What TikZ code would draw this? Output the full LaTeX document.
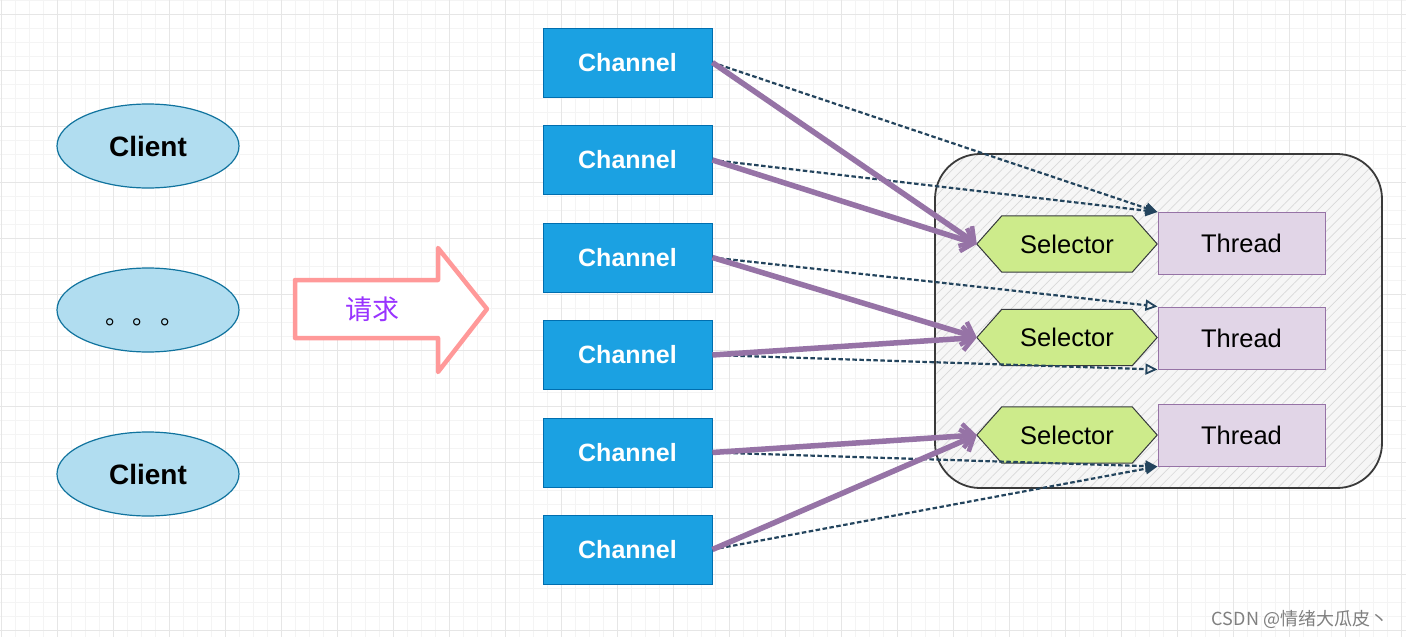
\documentclass[tikz,border=0pt]{standalone}
\usepackage{fontspec}
\setmainfont{Liberation Sans}
\newfontfamily\cjk{Noto Sans CJK SC}
\usetikzlibrary{arrows.meta,patterns.meta,shapes.geometric}
\pgfdeclarelayer{gridlayer}
\pgfdeclarelayer{shapelayer}
\pgfsetlayers{gridlayer,shapelayer,main}
\definecolor{clientfill}{HTML}{B1DDF0}
\definecolor{clientstroke}{HTML}{10739E}
\definecolor{chanfill}{HTML}{1BA1E2}
\definecolor{chanstroke}{HTML}{006EAF}
\definecolor{selfill}{HTML}{CDEB8B}
\definecolor{selstroke}{HTML}{36393D}
\definecolor{thfill}{HTML}{E1D5E7}
\definecolor{thstroke}{HTML}{9673A6}
\definecolor{dashcol}{HTML}{23445D}
\definecolor{reqpink}{HTML}{FF9999}
\definecolor{reqtext}{HTML}{9933FF}
\definecolor{minorgrid}{HTML}{F4F4F4}
\definecolor{majorgrid}{HTML}{E6E6E6}
\definecolor{poolfill}{HTML}{F6F6F6}
\definecolor{poolstroke}{HTML}{3A3A3A}
\begin{document}
\begin{tikzpicture}[x=1pt,y=-1pt,
  client/.style={ellipse,draw=clientstroke,fill=clientfill,line width=1.2pt,minimum width=182pt,minimum height=84pt,inner sep=0pt,font=\fontsize{28}{30}\selectfont\bfseries},
  chan/.style={draw=chanstroke,fill=chanfill,line width=0.8pt,minimum width=169pt,minimum height=69pt,inner sep=0pt,text=white,font=\fontsize{25}{28}\selectfont\bfseries},
  selbox/.style={minimum width=180pt,minimum height=56pt,inner sep=0pt,font=\fontsize{25.5}{28}\selectfont},
  hex/.style={draw=selstroke,fill=selfill,line width=1pt},
  thbox/.style={draw=thstroke,fill=thfill,line width=1pt,minimum width=167pt,minimum height=62pt,inner sep=0pt,font=\fontsize{25.5}{28}\selectfont},
  purp/.style={draw=thstroke,line width=5.5pt,-{Straight Barb[length=11pt,width=24pt,line width=4.5pt]}},
  dsh/.style={draw=dashcol,line width=2.2pt,dash pattern=on 4.5pt off 2.5pt,-{Triangle[length=12pt,width=11pt]}},
  dsho/.style={draw=dashcol,line width=2.2pt,dash pattern=on 4.5pt off 2.5pt,-{Triangle[open,length=12pt,width=11pt,line width=1.8pt]}}
]
\useasboundingbox (0,0) rectangle (1406,637);
\begin{pgfonlayer}{gridlayer}
  \fill[white] (0,0) rectangle (1406,637);
  \foreach \i in {0,...,101} {
    \draw[minorgrid,line width=0.8pt] (1+14*\i,0) -- (1+14*\i,637);
  }
  \foreach \j in {0,...,46} {
    \draw[minorgrid,line width=0.8pt] (0,14*\j) -- (1406,14*\j);
  }
  \foreach \i in {0,...,25} {
    \draw[majorgrid,line width=0.9pt] (1+56*\i,0) -- (1+56*\i,637);
  }
  \foreach \j in {0,...,11} {
    \draw[majorgrid,line width=0.9pt] (0,14+56*\j) -- (1406,14+56*\j);
  }
  \node[rounded corners=45pt,fill=poolfill,minimum width=447pt,minimum height=334pt,inner sep=0pt,
        postaction={pattern={Lines[angle=45,distance=7pt,line width=0.7pt]},pattern color=black!15},
        postaction={draw=poolstroke,line width=1.8pt}] (pool) at (1158.5,321) {};
\end{pgfonlayer}

% clients
\node[client] (c1) at (148,146) {Client};
\node[client] (c2) at (148,310) {};
\node[font=\cjk\fontsize{24}{28}\selectfont,text=black,inner sep=0pt] (dots) at (145,322) {。\hspace{4pt}。\hspace{4pt}。};
\node[client] (c3) at (148,474) {Client};

% request arrow
\draw[draw=reqpink,fill=white,line width=4.5pt,line join=round]
  (295,280) -- (438,280) -- (438,248) -- (487,309) -- (438,372) -- (438,338) -- (295,338) -- cycle;
\node[text=reqtext,font=\cjk\fontsize{27}{30}\selectfont] (req) at (372,309) {请求};

% channels
\node[chan] (ch1) at (627.5,62.5) {Channel};
\node[chan] (ch2) at (627.5,160) {Channel};
\node[chan] (ch3) at (627.5,257.5) {Channel};
\node[chan] (ch4) at (627.5,355) {Channel};
\node[chan] (ch5) at (627.5,452.5) {Channel};
\node[chan] (ch6) at (627.5,549.5) {Channel};

% selectors
\node[selbox] (s1) at (1067,244) {Selector};
\node[selbox] (s2) at (1067,337.5) {Selector};
\node[selbox] (s3) at (1067,435) {Selector};
\begin{pgfonlayer}{shapelayer}
  \foreach \s in {s1,s2,s3} {
    \draw[hex] (\s.west) -- ([xshift=25pt]\s.north west) -- ([xshift=-25pt]\s.north east)
      -- (\s.east) -- ([xshift=-25pt]\s.south east) -- ([xshift=25pt]\s.south west) -- cycle;
  }
\end{pgfonlayer}

% threads
\node[thbox] (t1) at (1241.5,243.5) {Thread};
\node[thbox] (t2) at (1241.5,338) {Thread};
\node[thbox] (t3) at (1241.5,435) {Thread};

% dashed connectors
\draw[dsh] (ch1.east) -- (t1.north west);
\draw[dsh] (ch2.east) -- (t1.north west);
\draw[dsho] (ch3.east) -- (t2.north west);
\draw[dsho] (ch4.east) -- (t2.south west);
\draw[dsh] (ch5.east) -- (t3.south west);
\draw[dsh] (ch6.east) -- (t3.south west);

% purple connectors
\draw[purp] (ch1.east) -- (s1.west);
\draw[purp] (ch2.east) -- (s1.west);
\draw[purp] (ch3.east) -- (s2.west);
\draw[purp] (ch4.east) -- (s2.west);
\draw[purp] (ch5.east) -- (s3.west);
\draw[purp] (ch6.east) -- (s3.west);

% watermark
\node[text=black!50,font=\cjk\fontsize{18}{20}\selectfont,inner sep=0pt] (wm) at (1300,619) {CSDN @情绪大瓜皮丶};
\end{tikzpicture}
\end{document}
